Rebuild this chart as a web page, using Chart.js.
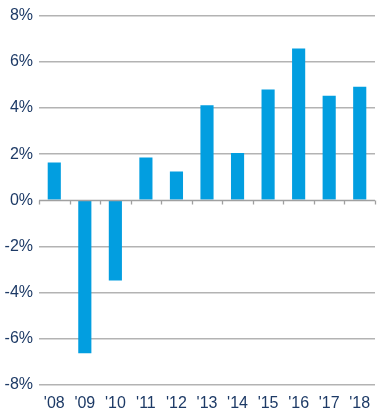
<!DOCTYPE html>
<html>
<head>
<meta charset="utf-8">
<script src="https://cdn.jsdelivr.net/npm/chart.js@4/dist/chart.umd.min.js"></script>
<style>
  html, body { margin: 0; padding: 0; background: #fff; }
  #wrap { width: 389px; height: 414px; }
</style>
</head>
<body>
<div id="wrap"><canvas id="c"></canvas></div>
<script>
// data
var years = ["'08", "'09", "'10", "'11", "'12", "'13", "'14", "'15", "'16", "'17", "'18"];
var growth = [1.64, -6.63, -3.47, 1.85, 1.25, 4.12, 2.05, 4.80, 6.58, 4.53, 4.92];
var yTicks = [-8, -6, -4, -2, 0, 2, 4, 6, 8];

var navy = '#1d3a66';
var gridGray = '#b3b3b3';

// little tick marks hanging under the zero line, at the category edges
var zeroTicks = {
  id: 'zeroTicks',
  afterDatasetsDraw: function(chart) {
    var xs = chart.scales.x, ys = chart.scales.y, ctx = chart.ctx;
    var y0 = Math.round(ys.getPixelForValue(0)) + 0.5;
    ctx.save();
    ctx.strokeStyle = '#a0a0a0';
    ctx.lineWidth = 1.3;
    ctx.beginPath();
    ctx.moveTo(xs.left, y0);
    ctx.lineTo(xs.right, y0);
    for (var i = 0; i <= years.length; i++) {
      var px = i < years.length
        ? xs.getPixelForValue(i) - (xs.getPixelForValue(1) - xs.getPixelForValue(0)) / 2
        : xs.right;
      px = Math.round(px) + 0.5;
      ctx.moveTo(px, y0);
      ctx.lineTo(px, y0 + 4);
    }
    ctx.stroke();
    ctx.restore();
  }
};

new Chart(document.getElementById('c'), {
  type: 'bar',
  data: {
    labels: years,
    datasets: [{
      data: growth,
      backgroundColor: '#029ee0',
      borderWidth: 0,
      barPercentage: 0.43,
      categoryPercentage: 1
    }]
  },
  options: {
    responsive: true,
    maintainAspectRatio: false,
    animation: false,
    layout: { padding: { top: 8, right: 14, left: 0, bottom: 0 } },
    plugins: { legend: { display: false }, tooltip: { enabled: false } },
    scales: {
      x: {
        grid: { display: false },
        border: { display: false },
        ticks: {
          color: navy,
          font: { family: 'Liberation Sans', size: 16 },
          padding: 1,
          maxRotation: 0,
          autoSkip: false
        },
        afterFit: function(s) { s.height = 29; }
      },
      y: {
        min: -8,
        max: 8,
        border: { display: false },
        grid: {
          color: function(c) { return c.tick && c.tick.value === 0 ? 'rgba(0,0,0,0)' : gridGray; },
          lineWidth: 1.5,
          drawTicks: false
        },
        afterBuildTicks: function(s) {
          s.ticks = yTicks.map(function(v) { return { value: v }; });
        },
        ticks: {
          color: navy,
          font: { family: 'Liberation Sans', size: 16 },
          padding: 6,
          callback: function(v) { return v + '%'; }
        },
        afterFit: function(s) { s.width = 39; }
      }
    }
  },
  plugins: [zeroTicks]
});
</script>
</body>
</html>
